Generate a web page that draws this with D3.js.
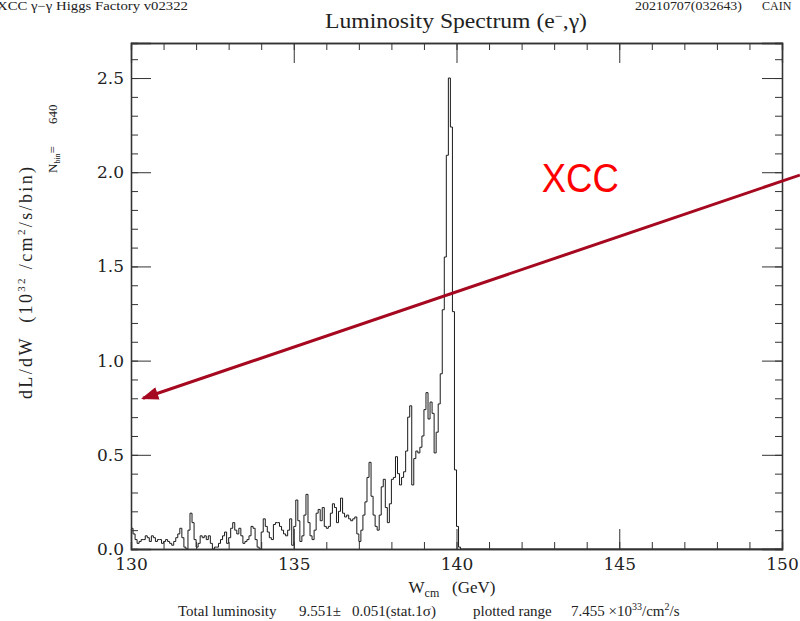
<!DOCTYPE html>
<html lang="en">
<head>
<meta charset="UTF-8">
<title>Luminosity Spectrum (e-,gamma)</title>
<script src="https://d3js.org/d3.v7.min.js"></script>
<style>
  body { margin: 0; background: #fff; }
  svg { display: block; }
  .serif { font-family: 'Liberation Serif', 'DejaVu Serif', serif; fill: #222; }
  .tick text { font-family: 'DejaVu Serif', serif; font-size: 15px; fill: #222; }
  .tick line, .domain { stroke: #333; }
</style>
</head>
<body>
<div id="chart"></div>
<script>
// histogram: bin i covers [binStart + i*binWidth, binStart + (i+1)*binWidth)
const binStart = 130;
const binWidth = 0.0625;
const lumValues = [
  0.11, 0.08, 0.05, 0.03, 0.04, 0.05, 0.05, 0.07, 0.06, 0.04,
  0.07, 0.06, 0.04, 0.05, 0.05, 0.03, 0.04, 0.05, 0.04, 0.03,
  0.02, 0.04, 0.06, 0.08, 0.11, 0.06, 0.01, 0.00, 0.10, 0.19,
  0.14, 0.05, 0.01, 0.03, 0.07, 0.06, 0.07, 0.05, 0.07, 0.03,
  0.00, 0.01, 0.01, 0.03, 0.05, 0.07, 0.09, 0.03, 0.06, 0.11,
  0.14, 0.10, 0.08, 0.11, 0.07, 0.03, 0.04, 0.05, 0.07, 0.12,
  0.11, 0.05, 0.01, 0.00, 0.09, 0.16, 0.12, 0.09, 0.06, 0.05,
  0.13, 0.14, 0.14, 0.12, 0.10, 0.08, 0.07, 0.10, 0.16, 0.02,
  0.12, 0.26, 0.15, 0.04, 0.07, 0.18, 0.29, 0.14, 0.07, 0.05,
  0.10, 0.19, 0.21, 0.15, 0.22, 0.12, 0.11, 0.12, 0.19, 0.24,
  0.22, 0.14, 0.20, 0.27, 0.19, 0.17, 0.18, 0.16, 0.15, 0.16,
  0.17, 0.08, 0.04, 0.10, 0.18, 0.25, 0.38, 0.46, 0.28, 0.18,
  0.12, 0.10, 0.18, 0.33, 0.37, 0.22, 0.14, 0.24, 0.37, 0.38,
  0.49, 0.40, 0.34, 0.38, 0.41, 0.52, 0.70, 0.76, 0.34, 0.48,
  0.52, 0.51, 0.54, 0.60, 0.74, 0.83, 0.69, 0.78, 0.72, 0.51,
  0.62, 0.77, 0.93, 1.27, 1.55, 2.09, 2.50, 2.24, 1.26, 0.42,
  0.12, 0.01, 0.00
];

const xDomain = [130, 150];
const yDomain = [0, 2.686];
const xMajorTicks = [130, 135, 140, 145, 150];
const xMinorTicks = d3.range(130, 151, 1);
const yMajorTicks = [0, 0.5, 1.0, 1.5, 2.0, 2.5];
const yMinorTicks = d3.range(0, 27, 1).map(d => d / 10);

// annotation (data coordinates)
const arrowFrom = [150.55, 1.985];
const arrowTo = [130.37, 0.80];
const xccLabelAt = [142.62, 1.895];

const width = 800, height = 621;
const margin = { left: 131, right: 18, top: 43, bottom: 72 };

const svg = d3.select("#chart").append("svg")
  .attr("width", width)
  .attr("height", height);

const x = d3.scaleLinear().domain(xDomain).range([margin.left, width - margin.right]);
const y = d3.scaleLinear().domain(yDomain).range([height - margin.bottom, margin.top]);

const plotBottom = height - margin.bottom;
const plotRight = width - margin.right;

// histogram line
const pts = lumValues.map((v, i) => [binStart + i * binWidth, v]);
const lastEdge = binStart + lumValues.length * binWidth;
pts.push([lastEdge, 0]);
pts.push([xDomain[1], 0]);

const line = d3.line()
  .x(d => x(d[0]))
  .y(d => y(d[1]))
  .curve(d3.curveStepAfter);

svg.append("path")
  .datum(pts)
  .attr("fill", "none")
  .attr("stroke", "#1a1a1a")
  .attr("stroke-width", 1)
  .attr("d", line);

// axes
function noLabel() { return ""; }

svg.append("g")
  .attr("transform", `translate(0,${plotBottom})`)
  .call(d3.axisBottom(x).tickValues(xMinorTicks).tickSize(-7).tickFormat(noLabel));
svg.append("g")
  .attr("transform", `translate(0,${plotBottom})`)
  .call(d3.axisBottom(x).tickValues(xMajorTicks).tickSize(-20).tickPadding(9).tickFormat(d3.format("d")))
  .call(g => g.selectAll(".tick text").style("font-size", "17px"));

svg.append("g")
  .attr("transform", `translate(0,${margin.top})`)
  .call(d3.axisTop(x).tickValues(xMinorTicks).tickSize(-7).tickFormat(noLabel));
svg.append("g")
  .attr("transform", `translate(0,${margin.top})`)
  .call(d3.axisTop(x).tickValues(xMajorTicks).tickSize(-20).tickFormat(noLabel));

svg.append("g")
  .attr("transform", `translate(${margin.left},0)`)
  .call(d3.axisLeft(y).tickValues(yMinorTicks).tickSize(-7).tickFormat(noLabel));
svg.append("g")
  .attr("transform", `translate(${margin.left},0)`)
  .call(d3.axisLeft(y).tickValues(yMajorTicks).tickSize(-20).tickPadding(7).tickFormat(d3.format(".1f")))
  .call(g => g.selectAll(".tick text").style("font-size", "17px"));

svg.append("g")
  .attr("transform", `translate(${plotRight},0)`)
  .call(d3.axisRight(y).tickValues(yMinorTicks).tickSize(-7).tickFormat(noLabel));
svg.append("g")
  .attr("transform", `translate(${plotRight},0)`)
  .call(d3.axisRight(y).tickValues(yMajorTicks).tickSize(-20).tickFormat(noLabel));

svg.selectAll(".domain").attr("stroke-width", 1.3);

// arrow annotation
svg.append("defs").append("marker")
  .attr("id", "head")
  .attr("viewBox", "0 0 16 12")
  .attr("refX", 14)
  .attr("refY", 6)
  .attr("markerWidth", 18)
  .attr("markerHeight", 13)
  .attr("markerUnits", "userSpaceOnUse")
  .attr("orient", "auto")
  .append("path")
  .attr("d", "M0,0 L16,6 L0,12 Z")
  .attr("fill", "#a5081f");

svg.append("line")
  .attr("x1", x(arrowFrom[0])).attr("y1", y(arrowFrom[1]))
  .attr("x2", x(arrowTo[0])).attr("y2", y(arrowTo[1]))
  .attr("stroke", "#a5081f")
  .attr("stroke-width", 3)
  .attr("marker-end", "url(#head)");

svg.append("text")
  .attr("x", x(xccLabelAt[0]))
  .attr("y", y(xccLabelAt[1]))
  .attr("font-family", "'Liberation Sans', Arial, sans-serif")
  .attr("font-size", 40)
  .attr("textLength", 77)
  .attr("lengthAdjust", "spacingAndGlyphs")
  .attr("fill", "#ff0000")
  .text("XCC");

// header texts
svg.append("text").attr("class", "serif")
  .attr("x", -3).attr("y", 10)
  .attr("font-size", 12)
  .attr("textLength", 191).attr("lengthAdjust", "spacingAndGlyphs")
  .text("XCC \u03b3\u2212\u03b3  Higgs Factory v02322");

svg.append("text").attr("class", "serif")
  .attr("x", 635).attr("y", 10)
  .attr("font-size", 12)
  .attr("textLength", 107).attr("lengthAdjust", "spacingAndGlyphs")
  .text("20210707(032643)");

svg.append("text").attr("class", "serif")
  .attr("x", 762).attr("y", 10)
  .attr("font-size", 12)
  .text("CAIN");

// title
const title = svg.append("text").attr("class", "serif")
  .attr("x", 456).attr("y", 28)
  .attr("text-anchor", "middle")
  .attr("font-size", 20)
  .attr("textLength", 262).attr("lengthAdjust", "spacingAndGlyphs");
title.append("tspan").text("Luminosity Spectrum (e");
title.append("tspan").attr("dy", -8).attr("font-size", 12).text("\u2212");
title.append("tspan").attr("dy", 8).text(",\u03b3)");

// y axis label
const yl = svg.append("text").attr("class", "serif")
  .attr("transform", "translate(32,283) rotate(-90)")
  .attr("text-anchor", "middle")
  .attr("font-size", 18)
  .attr("textLength", 232).attr("lengthAdjust", "spacing")
  .attr("xml:space", "preserve");
yl.append("tspan").text("dL/dW  (10");
yl.append("tspan").attr("dy", -7).attr("font-size", 11).text("32");
yl.append("tspan").attr("dy", 7).text(" /cm");
yl.append("tspan").attr("dy", -7).attr("font-size", 11).text("2");
yl.append("tspan").attr("dy", 7).text("/s/bin)");

// N_bin label
const nb = svg.append("text").attr("class", "serif")
  .attr("transform", "translate(57,173) rotate(-90)")
  .attr("font-size", 13)
  .attr("xml:space", "preserve");
nb.append("tspan").text("N");
nb.append("tspan").attr("dy", 3).attr("font-size", 8).text("bin");
nb.append("tspan").attr("dy", -3).text("=");
nb.append("tspan").attr("dx", 22).text("640");

// x axis label
const xl = svg.append("text").attr("class", "serif")
  .attr("x", 452).attr("y", 593)
  .attr("text-anchor", "middle")
  .attr("font-size", 17)
  .attr("xml:space", "preserve");
xl.append("tspan").text("W");
xl.append("tspan").attr("dy", 4).attr("font-size", 12).text("cm");
xl.append("tspan").attr("dy", -4).text("   (GeV)");

// bottom summary line
const sumY = 616;
function summary(xPos, txt) {
  return svg.append("text").attr("class", "serif")
    .attr("x", xPos).attr("y", sumY).attr("font-size", 15)
    .text(txt);
}
summary(178, "Total luminosity");
summary(299, "9.551\u00b1");
summary(352, "0.051(stat.1\u03c3)");
summary(473, "plotted range");
const lumTxt = svg.append("text").attr("class", "serif")
  .attr("x", 571).attr("y", sumY).attr("font-size", 15)
  .attr("xml:space", "preserve");
lumTxt.append("tspan").text("7.455 \u00d710");
lumTxt.append("tspan").attr("dy", -6).attr("font-size", 10).text("33");
lumTxt.append("tspan").attr("dy", 6).text("/cm");
lumTxt.append("tspan").attr("dy", -6).attr("font-size", 10).text("2");
lumTxt.append("tspan").attr("dy", 6).text("/s");
</script>
</body>
</html>
